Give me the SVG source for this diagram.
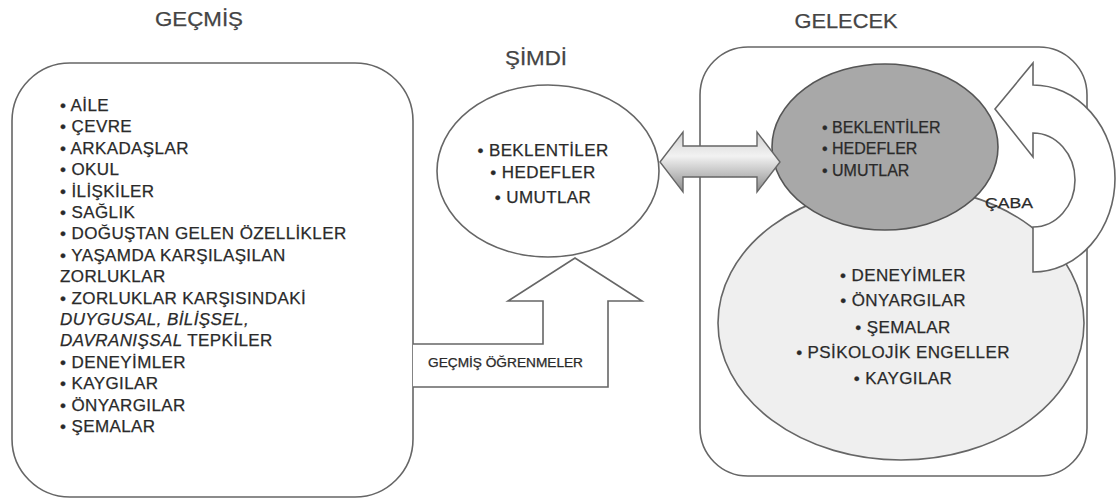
<svg xmlns="http://www.w3.org/2000/svg" width="1119" height="504" viewBox="0 0 1119 504">
<defs>
<linearGradient id="g" x1="0" y1="0" x2="0" y2="1">
<stop offset="0" stop-color="#cfcfcf"/>
<stop offset="0.4" stop-color="#f2f2f2"/>
<stop offset="1" stop-color="#8c8c8c"/>
</linearGradient>
<style>
text{font-family:"Liberation Sans",Arial,sans-serif;fill:#2a2a2a;stroke:#2a2a2a;stroke-width:0.25}
.box{fill:#fff;stroke:#666;stroke-width:1.6}
.t{font-size:17px;letter-spacing:0.4px}
.title{font-size:21px;fill:#444;stroke:#444}
.c{text-anchor:middle}
.i{font-style:italic}
</style>
</defs>
<rect width="1119" height="504" fill="#fff"/>

<g id="gecmis">
<text class="title c" x="199" y="26" textLength="88" lengthAdjust="spacingAndGlyphs">GEÇMİŞ</text>
<rect class="box" x="12" y="63" width="401" height="434" rx="58"/>
<text class="t" x="60" y="111">• AİLE</text>
<text class="t" x="60" y="132.4">• ÇEVRE</text>
<text class="t" x="60" y="153.8">• ARKADAŞLAR</text>
<text class="t" x="60" y="175.2">• OKUL</text>
<text class="t" x="60" y="196.6">• İLİŞKİLER</text>
<text class="t" x="60" y="218">• SAĞLIK</text>
<text class="t" x="60" y="239.4">• DOĞUŞTAN GELEN ÖZELLİKLER</text>
<text class="t" x="60" y="260.8">• YAŞAMDA KARŞILAŞILAN</text>
<text class="t" x="60" y="282.2">ZORLUKLAR</text>
<text class="t" x="60" y="303.6">• ZORLUKLAR KARŞISINDAKİ</text>
<text class="t i" x="60" y="325">DUYGUSAL, BİLİŞSEL,</text>
<text class="t" x="60" y="346.4"><tspan class="i">DAVRANIŞSAL</tspan> TEPKİLER</text>
<text class="t" x="60" y="367.8">• DENEYİMLER</text>
<text class="t" x="60" y="389.2">• KAYGILAR</text>
<text class="t" x="60" y="410.6">• ÖNYARGILAR</text>
<text class="t" x="60" y="432">• ŞEMALAR</text>
</g>

<g id="simdi">
<text class="title c" x="536" y="65" font-size="17" textLength="62" lengthAdjust="spacingAndGlyphs">ŞİMDİ</text>
<ellipse class="box" cx="548" cy="171" rx="111" ry="86"/>
<text class="t c" x="543" y="156">• BEKLENTİLER</text>
<text class="t c" x="543" y="178">• HEDEFLER</text>
<text class="t c" x="543" y="203">• UMUTLAR</text>
</g>

<g id="gelecek">
<text class="title c" x="846" y="28" font-size="22" textLength="103" lengthAdjust="spacingAndGlyphs">GELECEK</text>
<rect class="box" x="700" y="47" width="387" height="429" rx="48"/>
<ellipse cx="901" cy="323" rx="183" ry="137" fill="#efefef" stroke="#666" stroke-width="1.6"/>
<ellipse cx="885" cy="147" rx="113" ry="83" fill="#a8a8a8" stroke="#555" stroke-width="1.6"/>
<text x="822" y="133" font-size="16">• BEKLENTİLER</text>
<text x="822" y="154" font-size="16">• HEDEFLER</text>
<text x="822" y="176" font-size="16">• UMUTLAR</text>
<text class="t c" x="903" y="281">• DENEYİMLER</text>
<text class="t c" x="903" y="306">• ÖNYARGILAR</text>
<text class="t c" x="903" y="333">• ŞEMALAR</text>
<text class="t c" x="903" y="358">• PSİKOLOJİK ENGELLER</text>
<text class="t c" x="903" y="384">• KAYGILAR</text>
</g>

<g id="connectors">
<path d="M413 344 L543 344 L543 301 L508 301 L575 258 L642 301 L608 301 L608 387 L413 387" fill="#fff" stroke="#666" stroke-width="1.6"/>
<text x="428" y="367" font-size="12" fill="#444" stroke="#444" stroke-width="0.2" textLength="155" lengthAdjust="spacingAndGlyphs">GEÇMİŞ ÖĞRENMELER</text>
<path d="M660 162 L683 132 L683 146 L757 146 L757 132 L780 162 L757 192 L757 177 L683 177 L683 192 Z" fill="url(#g)" stroke="#666" stroke-width="1.4"/>
<path d="M995 109 L1033 63 L1033 85 A82 93.5 0 0 1 1033 272 L1033 227 A42 47 0 0 0 1033 133 L1033 157 Z" fill="#fff" stroke="#666" stroke-width="1.6"/>
<text x="985" y="208" font-size="15" fill="#444" stroke="#444" stroke-width="0.2" textLength="48" lengthAdjust="spacingAndGlyphs">ÇABA</text>
</g>
</svg>
